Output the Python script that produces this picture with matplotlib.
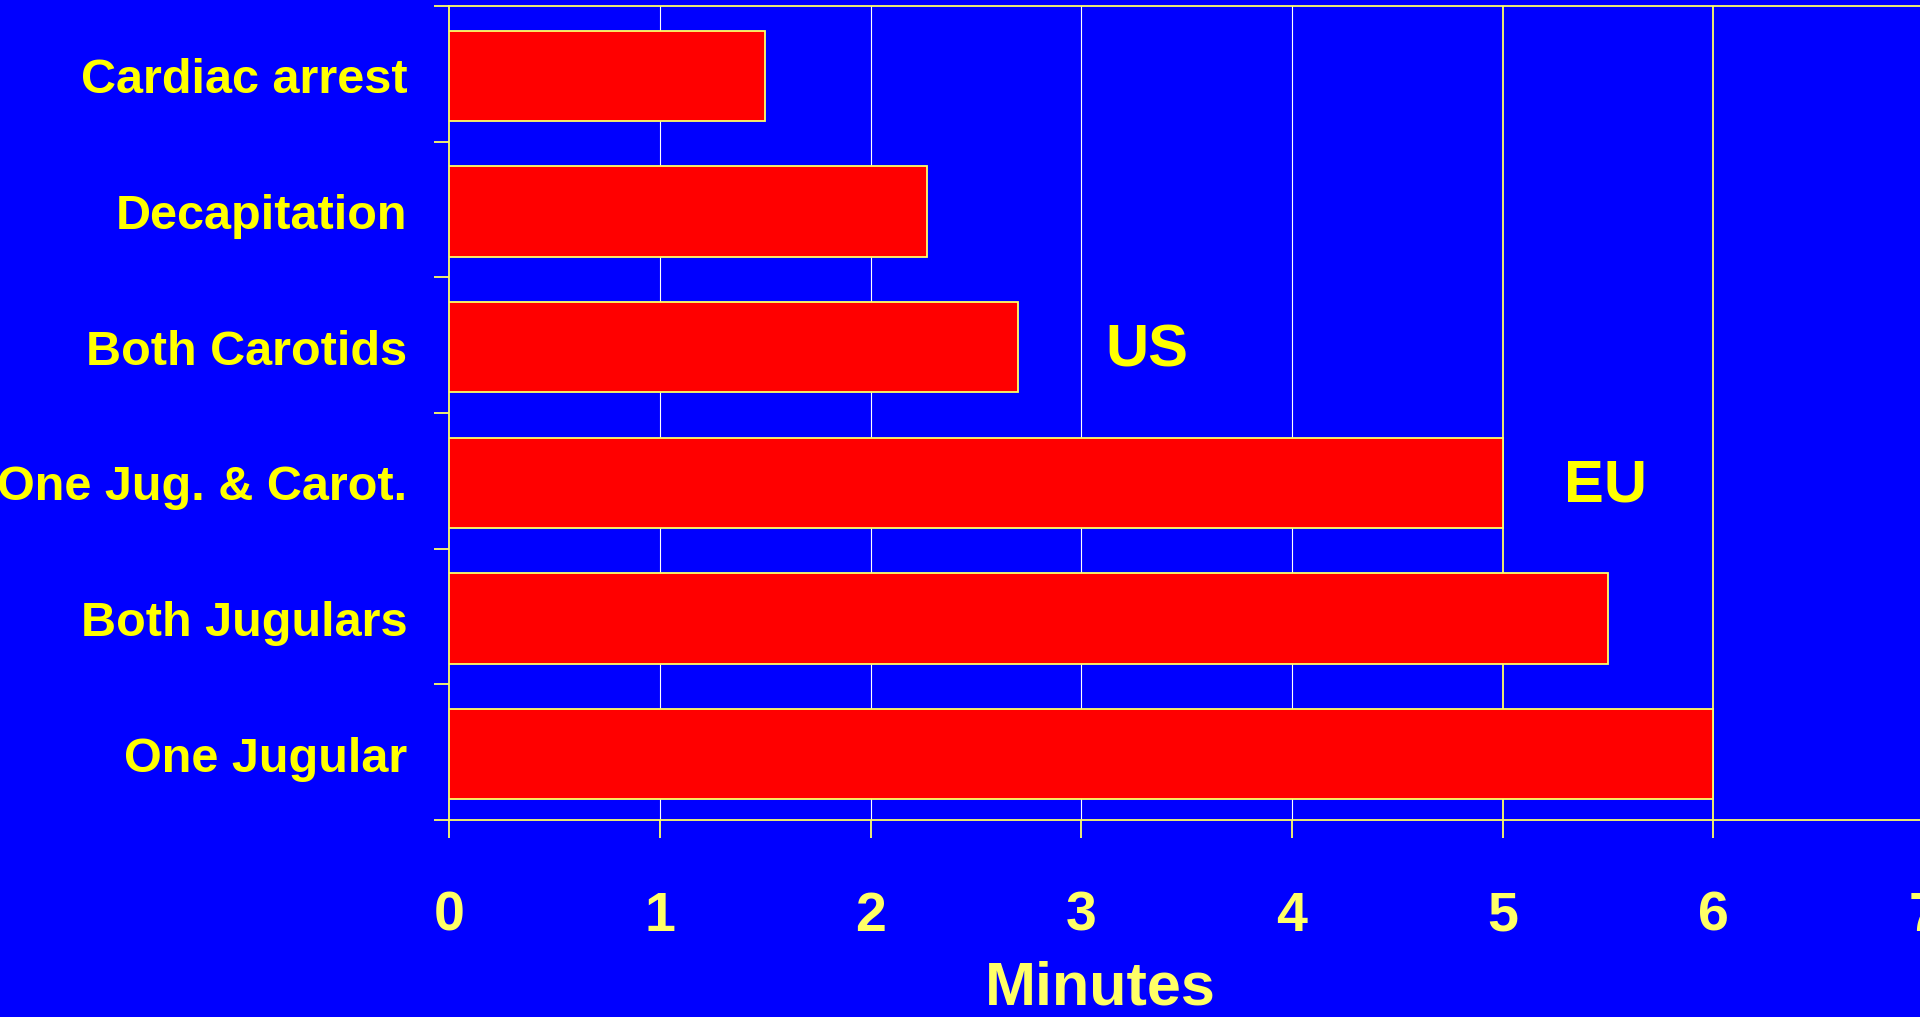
import matplotlib
matplotlib.use("Agg")
import matplotlib.pyplot as plt
import numpy as np

# time to loss of consciousness after the cut, minutes
CATEGORIES = ["Cardiac arrest", "Decapitation", "Both Carotids",
              "One Jug. & Carot.", "Both Jugulars", "One Jugular"]
MINUTES = [1.5, 2.27, 2.7, 5.0, 5.5, 6.0]
XTICKS = [0, 1, 2, 3, 4, 5, 6, 7]
LIMIT_LINES = [5, 6]
REGION_LABELS = ["US", "EU"]
REGION_X = [3.31, 5.49]
REGION_ROW = [2, 3]

BLUE = "#0000ff"
RED = "#ff0000"
YELLOW = "#ffff00"
PALE = "#ffff66"

plt.rcParams["font.family"] = ["Liberation Sans", "DejaVu Sans"]
plt.rcParams["font.weight"] = "bold"

fig = plt.figure(figsize=(19.2, 10.17), dpi=100, facecolor=BLUE)
ax = fig.add_axes([0.2339, 0.1937, 0.7682, 0.8004], facecolor=BLUE)

# rows sit a hair below the boundary midpoints
y = np.arange(len(CATEGORIES)) + 0.015
ax.barh(y, MINUTES, height=0.665, color=RED, edgecolor=PALE, linewidth=1.3, zorder=3)

# thin white grid for the lower minutes, yellow reference lines at 5 and 6
for x in XTICKS[1:5]:
    ax.axvline(x, color="white", lw=0.8, zorder=1)
for x in LIMIT_LINES:
    ax.axvline(x, color=PALE, lw=1.3, zorder=2)

for lab, x, r in zip(REGION_LABELS, REGION_X, REGION_ROW):
    ax.text(x, r + 0.04, lab, color=YELLOW, fontsize=43, fontweight="bold",
            ha="center", va="center", zorder=4)

ax.set_xlim(0, 7)
ax.set_ylim(len(CATEGORIES) - 0.5, -0.5)
ax.set_xticks(XTICKS)
ax.set_xticklabels([str(t) for t in XTICKS])
ax.tick_params(axis="x", colors=PALE, labelcolor=PALE, length=13, width=1.3,
               pad=38, labelsize=40)

# category names centred on rows, tick marks on the row boundaries
ax.set_yticks(y)
ax.set_yticklabels(CATEGORIES)
ax.tick_params(axis="y", which="major", length=0, pad=30, labelsize=35,
               labelcolor=YELLOW)
ax.set_yticks(np.arange(-0.5, len(CATEGORIES), 1.0), minor=True)
ax.tick_params(axis="y", which="minor", length=11, width=1.3, color=PALE)
for t in ax.get_xticklabels() + ax.get_yticklabels():
    t.set_fontweight("bold")

for side in ["left", "top", "bottom", "right"]:
    ax.spines[side].set_color(PALE)
    ax.spines[side].set_linewidth(1.3)

fig.text(1100 / 1920, 0.0275, "Minutes", color=PALE, fontsize=44,
         fontweight="bold", ha="center", va="center")

fig.savefig("out.png", dpi=100, facecolor=BLUE)
